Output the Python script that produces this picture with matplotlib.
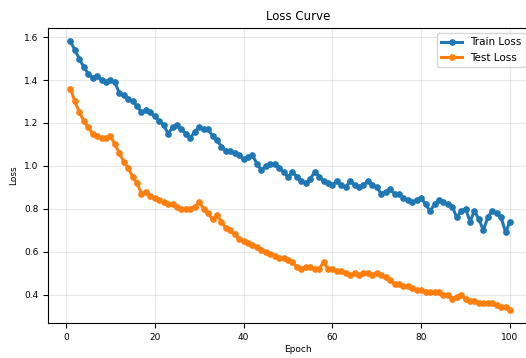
import matplotlib
matplotlib.use("Agg")
import matplotlib.pyplot as plt

epochs = list(range(1, 101))
train_loss = [
    1.58, 1.54, 1.50, 1.46, 1.43, 1.41, 1.42, 1.40, 1.39, 1.40,
    1.39, 1.34, 1.33, 1.31, 1.30, 1.28, 1.25, 1.26, 1.25, 1.23,
    1.21, 1.19, 1.15, 1.18, 1.19, 1.17, 1.15, 1.13, 1.16, 1.18,
    1.17, 1.17, 1.14, 1.12, 1.09, 1.07, 1.07, 1.06, 1.05, 1.03,
    1.04, 1.05, 1.01, 0.98, 1.00, 1.01, 1.01, 0.99, 0.97, 0.95,
    0.97, 0.95, 0.93, 0.92, 0.94, 0.97, 0.95, 0.93, 0.92, 0.91,
    0.93, 0.91, 0.90, 0.93, 0.91, 0.90, 0.91, 0.93, 0.91, 0.90,
    0.87, 0.88, 0.89, 0.87, 0.87, 0.85, 0.84, 0.83, 0.84, 0.85,
    0.82, 0.79, 0.82, 0.84, 0.83, 0.82, 0.81, 0.76, 0.79, 0.80,
    0.74, 0.79, 0.75, 0.70, 0.76, 0.79, 0.78, 0.76, 0.69, 0.74,
]
test_loss = [
    1.36, 1.30, 1.25, 1.21, 1.18, 1.15, 1.14, 1.13, 1.13, 1.14,
    1.10, 1.06, 1.02, 0.99, 0.95, 0.92, 0.87, 0.88, 0.86, 0.85,
    0.84, 0.83, 0.82, 0.82, 0.81, 0.80, 0.80, 0.80, 0.81, 0.83,
    0.80, 0.78, 0.75, 0.77, 0.74, 0.71, 0.70, 0.68, 0.66, 0.65,
    0.64, 0.63, 0.62, 0.61, 0.60, 0.59, 0.58, 0.57, 0.57, 0.56,
    0.55, 0.53, 0.52, 0.53, 0.53, 0.52, 0.52, 0.55, 0.52, 0.52,
    0.51, 0.51, 0.50, 0.49, 0.50, 0.49, 0.50, 0.50, 0.49, 0.50,
    0.49, 0.48, 0.47, 0.45, 0.45, 0.44, 0.44, 0.43, 0.42, 0.42,
    0.41, 0.41, 0.41, 0.41, 0.40, 0.40, 0.38, 0.39, 0.40, 0.38,
    0.37, 0.37, 0.36, 0.36, 0.36, 0.36, 0.35, 0.34, 0.34, 0.33,
]

W, H = 526, 358
fig = plt.figure(figsize=(W / 100, H / 100), dpi=100)
ax_left, ax_right, ax_top, ax_bottom = 48, 548, 28, 323
ax = fig.add_axes([ax_left / W, (H - ax_bottom) / H,
                   (ax_right - ax_left) / W, (ax_bottom - ax_top) / H])

ax.plot(epochs, train_loss, marker='o', markersize=3.8, linewidth=2.2,
        color='#1f77b4', label='Train Loss')
ax.plot(epochs, test_loss, marker='o', markersize=3.8, linewidth=2.2,
        color='#ff7f0e', label='Test Loss')

# keep tick 0 at ~66 px and tick 100 at ~510 px
px_per_epoch = (510 - 66) / 100
ax.set_xlim(-(66 - ax_left) / px_per_epoch, (ax_right - 66) / px_per_epoch)
ax.set_xticks([0, 20, 40, 60, 80, 100])

ax.set_title('Loss Curve', fontsize=8.5)
ax.set_xlabel('Epoch', fontsize=6.5, labelpad=2)
ax.set_ylabel('Loss', fontsize=6.5)
ax.tick_params(labelsize=6.5)
ax.grid(True, alpha=0.3)
ax.legend(loc='upper right', fontsize=7.5,
          bbox_to_anchor=(531 / W, (H - ax_top) / H),
          bbox_transform=fig.transFigure)

fig.savefig('out.png', dpi=100)
